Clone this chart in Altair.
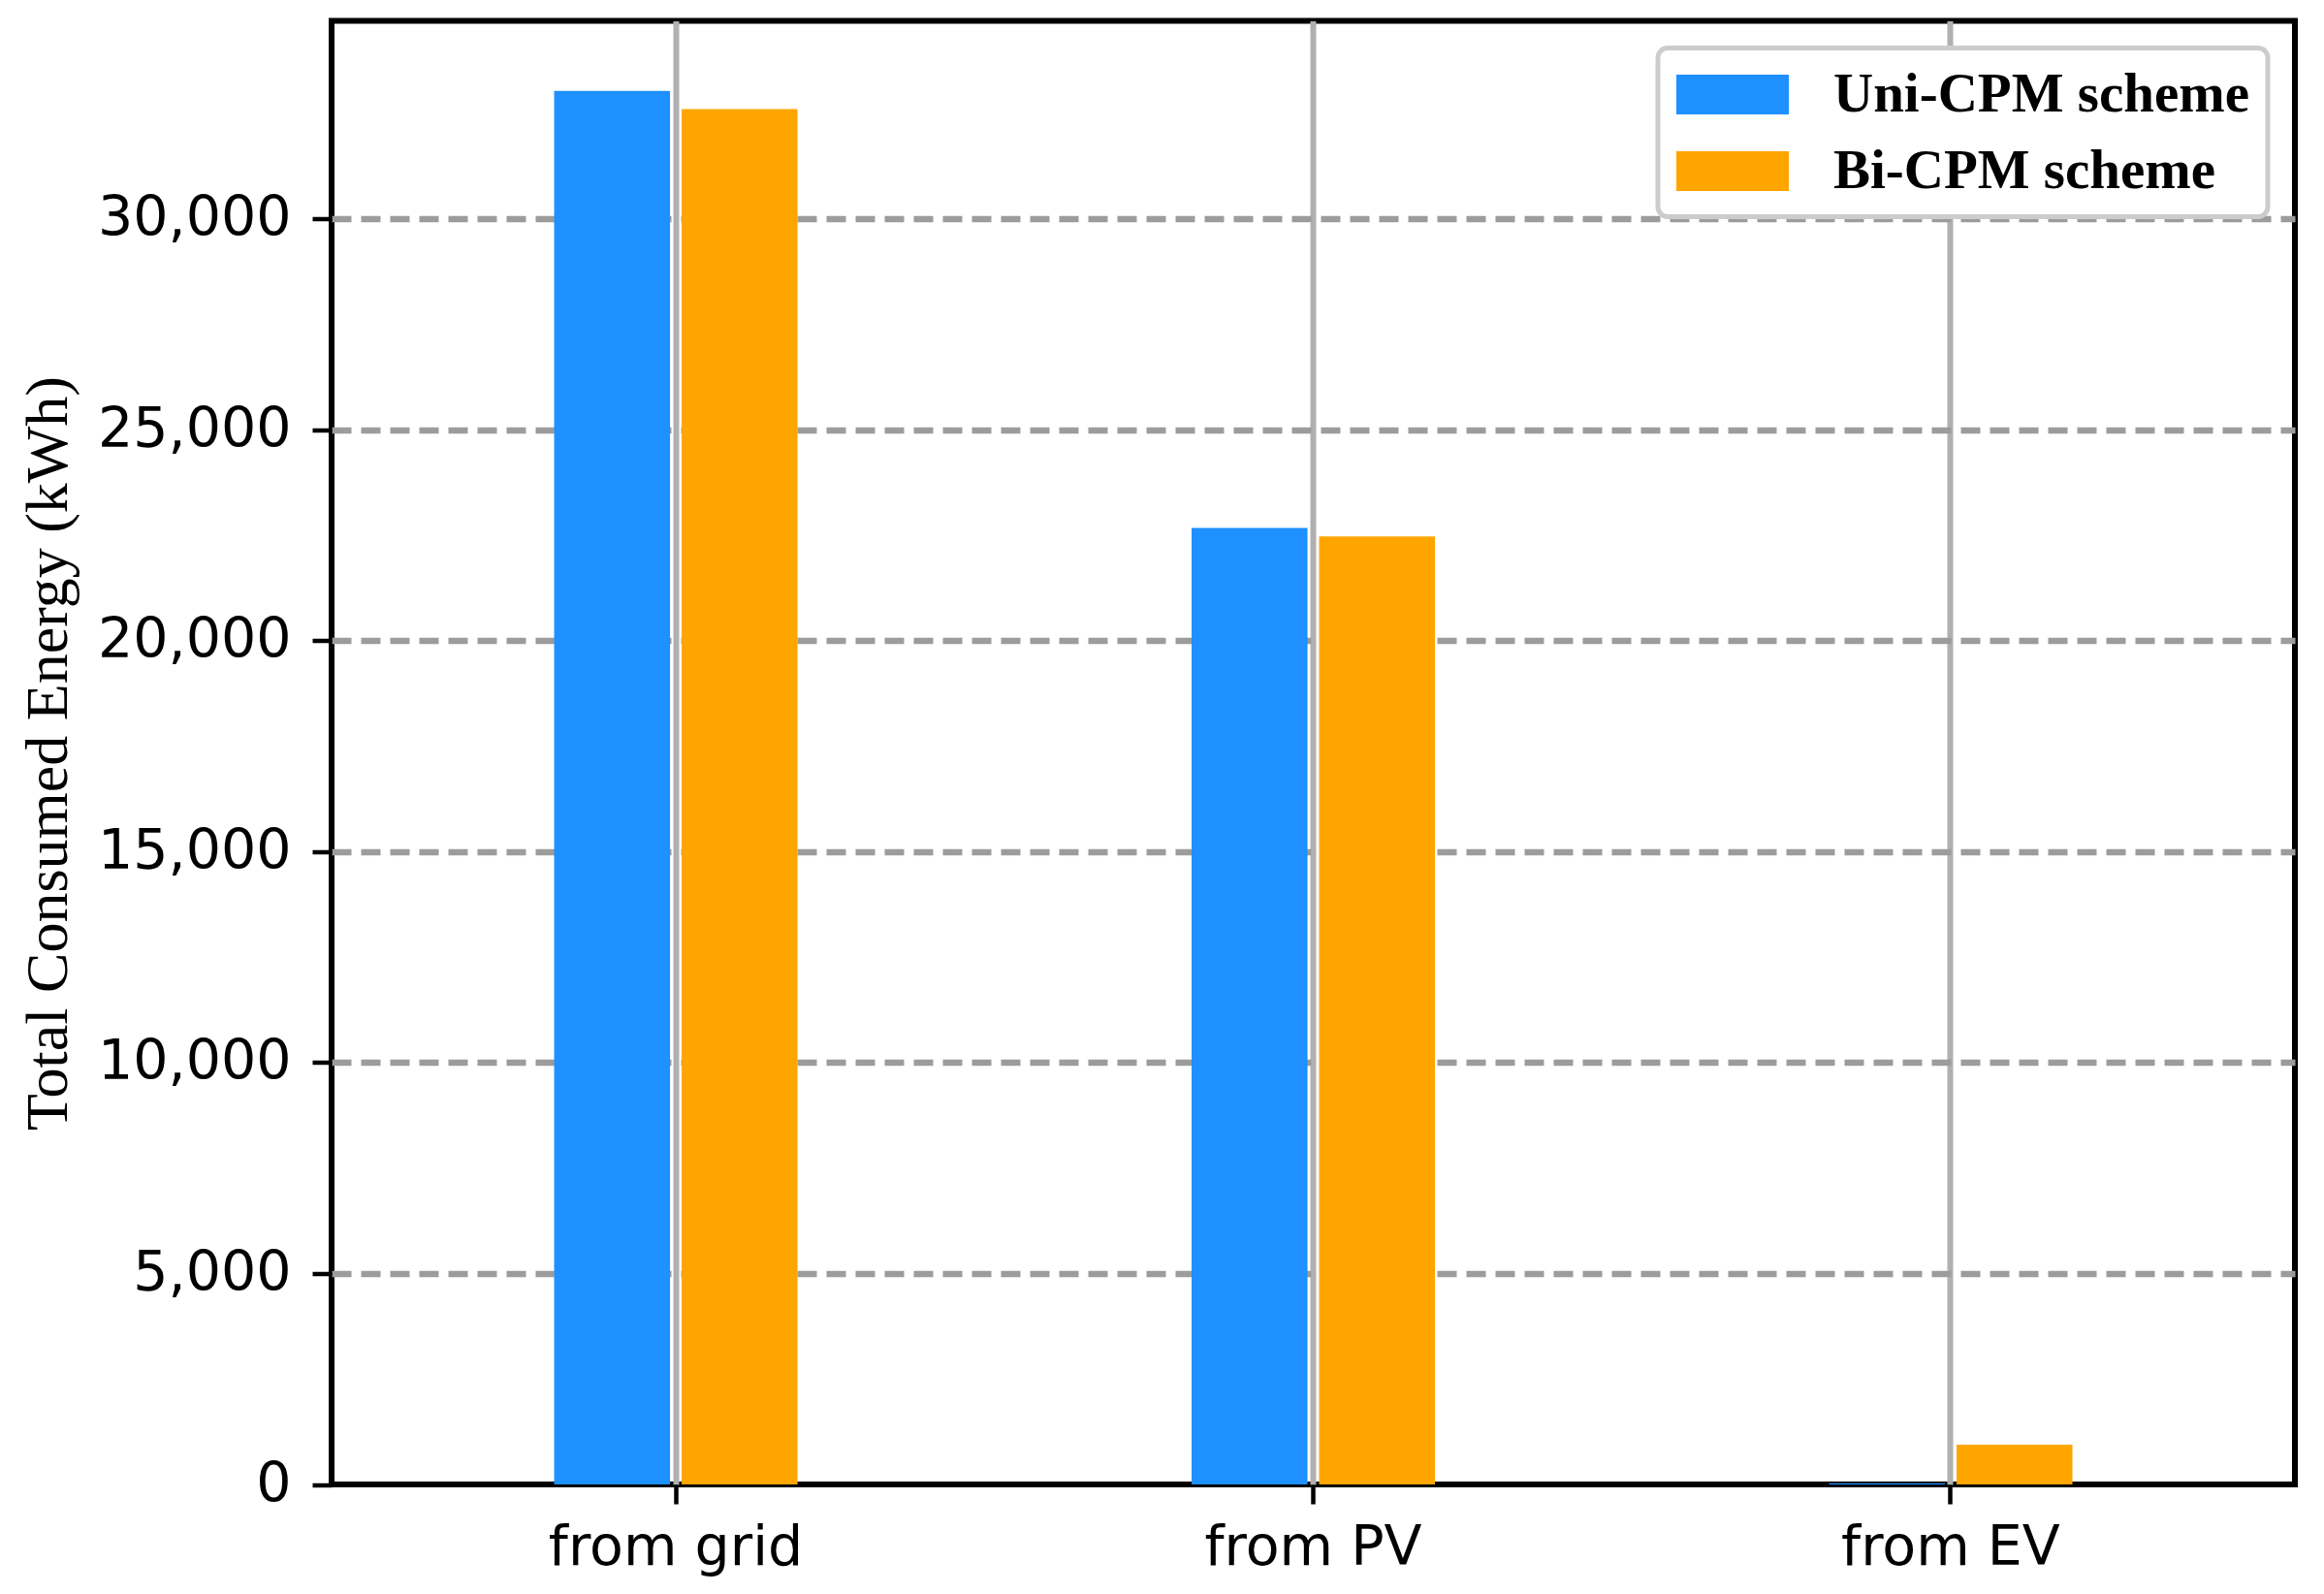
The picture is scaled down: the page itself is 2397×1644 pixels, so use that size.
import altair as alt
import pandas as pd

categories = ["from grid", "from PV", "from EV"]
schemes = ["Uni-CPM scheme", "Bi-CPM scheme"]
uni_cpm = [33030, 22670, 30]
bi_cpm = [32600, 22470, 940]
colors = ["#1E90FF", "#FFA500"]
y_ticks = [0, 5000, 10000, 15000, 20000, 25000, 30000]
y_max = 34690

rows = []
for i, c in enumerate(categories):
    rows.append({"source": c, "scheme": schemes[0], "energy": uni_cpm[i]})
    rows.append({"source": c, "scheme": schemes[1], "energy": bi_cpm[i]})
df = pd.DataFrame(rows)

legend = alt.Legend(
    title=None,
    orient="none",
    legendX=1368,
    legendY=28,
    symbolType="M-1,-0.71H3V0.71H-1Z",
    symbolSize=58 * 58,
    symbolStrokeWidth=0,
    labelFont="Liberation Serif",
    labelFontWeight="bold",
    labelFontSize=57,
    labelColor="black",
    labelOffset=104,
    labelLimit=0,
    rowPadding=22,
    padding=19,
    strokeColor="#cccccc",
    cornerRadius=10,
    fillColor="white",
)

chart = (
    alt.Chart(df)
    .mark_bar()
    .encode(
        x=alt.X(
            "source:N",
            sort=categories,
            scale=alt.Scale(paddingInner=0, paddingOuter=0.04),
            axis=alt.Axis(
                title=None,
                labelAngle=0,
                labelFont="DejaVu Sans",
                labelFontSize=57,
                labelColor="black",
                labelBaseline="alphabetic",
                labelPadding=62,
                labelLimit=0,
                tickSize=20,
                tickWidth=4.5,
                tickColor="black",
                domain=False,
                grid=True,
                gridColor="#b0b0b0",
                gridWidth=6,
                bandPosition=0.5,
            ),
        ),
        xOffset=alt.XOffset(
            "scheme:N",
            sort=schemes,
            scale=alt.Scale(paddingInner=0.091, paddingOuter=0, range=[203.25, 454.28]),
        ),
        y=alt.Y(
            "energy:Q",
            scale=alt.Scale(domain=[0, y_max], nice=False),
            axis=alt.Axis(
                title="Total Consumed Energy (kWh)",
                values=y_ticks,
                format=",d",
                labelFont="DejaVu Sans",
                labelFontSize=57,
                labelColor="black",
                labelPadding=22,
                labelLimit=0,
                tickSize=20,
                tickWidth=4.5,
                tickColor="black",
                domain=False,
                grid=True,
                gridColor="#9c9c9c",
                gridOpacity={"condition": {"test": "datum.value === 0", "value": 0}, "value": 1},
                gridWidth=6.5,
                gridDash=[20, 10],
                titleFont="Liberation Serif",
                titleFontSize=62,
                titleFontWeight="normal",
                titleColor="black",
                titleAngle=270,
                titleBaseline="alphabetic",
                titleAlign="center",
                titleX=-274,
                titleY=755,
            ),
        ),
        color=alt.Color(
            "scheme:N",
            sort=schemes,
            scale=alt.Scale(domain=schemes, range=colors),
            legend=legend,
        ),
    )
    .properties(
        width=2025,
        height=1509.5,
        padding={"left": 334, "top": 13.5, "right": 20, "bottom": 95},
        autosize=alt.AutoSizeParams(type="none"),
    )
    .configure(font="DejaVu Sans")
    .configure_view(stroke="black", strokeWidth=6)
    .configure_legend(strokeWidth=5)
)

chart.save("out.html", embed_options={"renderer": "svg", "actions": False})
